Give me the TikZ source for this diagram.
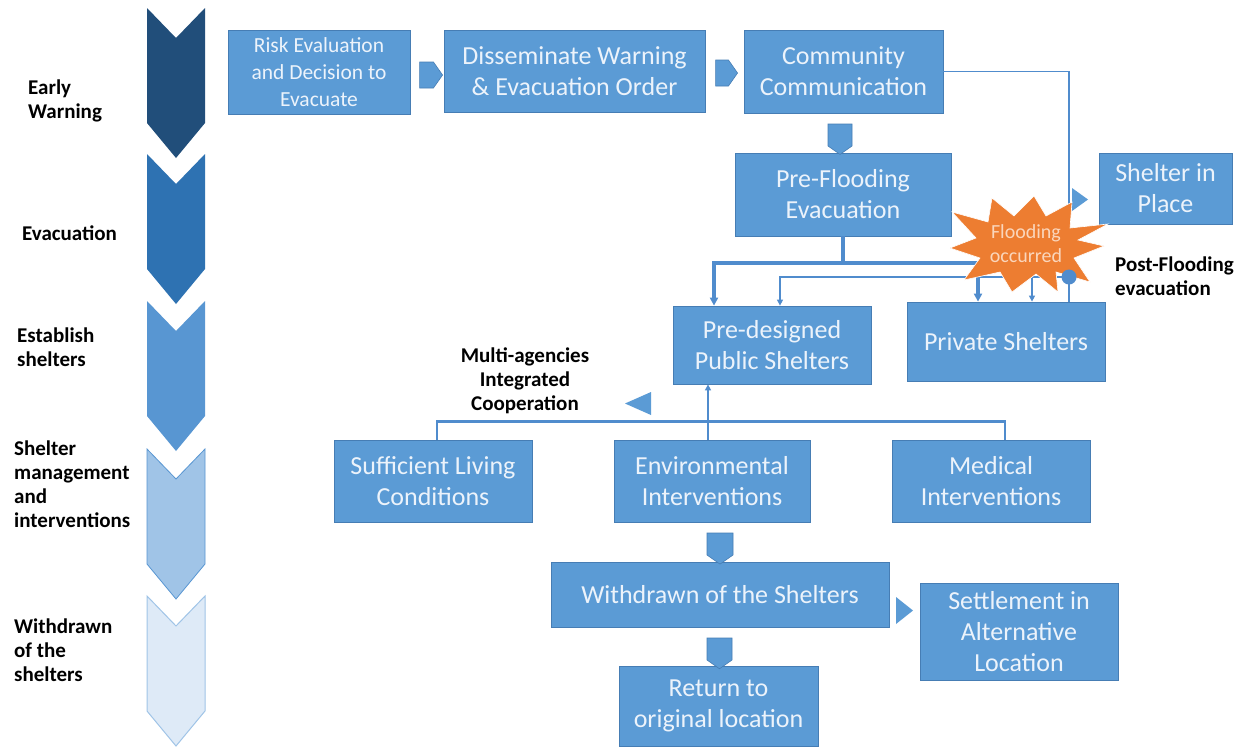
\documentclass[tikz,border=0pt]{standalone}
\usepackage{fontspec}
\setmainfont{Carlito}
\usetikzlibrary{arrows.meta,shapes.symbols,shapes.geometric,calc}
\definecolor{boxfill}{RGB}{91,155,213}
\definecolor{boxline}{RGB}{70,125,180}
\definecolor{boxtext}{RGB}{236,243,251}
\definecolor{linec}{RGB}{80,140,205}
\definecolor{chA}{RGB}{33,78,122}
\definecolor{chB}{RGB}{46,114,178}
\definecolor{chC}{RGB}{88,150,210}
\definecolor{chD}{RGB}{160,196,231}
\definecolor{chE}{RGB}{222,234,247}
\definecolor{burstc}{RGB}{237,125,49}
\definecolor{bursttext}{RGB}{250,214,188}
\tikzset{
  boxs/.style={draw=boxline, line width=0.8pt, fill=boxfill, text=boxtext, align=center,
    inner sep=0pt, font=\fontsize{26}{31}\selectfont},
  lab/.style={anchor=west, align=left, inner sep=0pt, font=\fontsize{21}{24}\selectfont\bfseries},
  thickl/.style={draw=linec, line width=3.2pt},
  medl/.style={draw=linec, line width=2.4pt},
  thinl/.style={draw=linec, line width=1.3pt},
  tip/.style={-{Triangle[length=8pt,width=8pt]}},
  smalltip/.style={-{Triangle[length=6pt,width=6pt]}},
  sigE/.style={signal, signal to=east, fill=boxfill, draw=boxline, line width=0.6pt,
    inner sep=0pt, signal pointer angle=110},
  sigS/.style={signal, signal to=south, fill=boxfill, draw=boxline, line width=0.6pt,
    inner sep=0pt, signal pointer angle=110},
  burstshape/.style={fill=burstc, draw=white, line width=0.6pt, line join=miter},
  bursttxt/.style={text=bursttext, align=center, inner sep=0pt, font=\fontsize{20}{24}\selectfont},
}
\begin{document}
\begin{tikzpicture}[x=1pt,y=-1pt]
\useasboundingbox (0,0) rectangle (1245,748);
\fill[white] (0,0) rectangle (1245,748);

% chevrons
\fill[chA] (147,8) -- (176,38) -- (205,8) -- (205,123) -- (176,158) -- (147,123) -- cycle;
\fill[chB] (147,154) -- (176,184) -- (205,154) -- (205,269) -- (176,304) -- (147,269) -- cycle;
\fill[chC] (147,301) -- (176,331) -- (205,301) -- (205,416) -- (176,451) -- (147,416) -- cycle;
\filldraw[fill=chD, draw=chC, line width=0.8pt] (147,449) -- (176,479) -- (205,449) -- (205,564) -- (176,599) -- (147,564) -- cycle;
\filldraw[fill=chE, draw=chD, line width=1pt] (147,596) -- (176,626) -- (205,596) -- (205,711) -- (176,746) -- (147,711) -- cycle;

% stage labels
\node[lab] (l1) at (28,101) {Early\\Warning};
\node[lab] (l2) at (22,233) {Evacuation};
\node[lab] (l3) at (17,347) {Establish\\shelters};
\node[lab] (l4) at (14,484) {Shelter\\management\\and\\interventions};
\node[lab] (l5) at (14,650) {Withdrawn\\of the\\shelters};

% boxes
\node[boxs, minimum width=182pt, minimum height=84pt, font=\fontsize{21.5}{27}\selectfont] (risk) at (319,72) {Risk Evaluation\\and Decision to\\Evacuate};
\node[boxs, minimum width=261pt, minimum height=82pt] (diss) at (574.5,71) {Disseminate Warning\\\& Evacuation Order};
\node[boxs, minimum width=199pt, minimum height=83pt] (comm) at (843.5,71.5) {Community\\Communication};
\node[boxs, minimum width=216pt, minimum height=83pt] (pre) at (843,194.5) {Pre-Flooding\\Evacuation};
\node[boxs, minimum width=133pt, minimum height=71pt] (sip) at (1165.5,188.5) {Shelter in\\Place};
\node[boxs, minimum width=198pt, minimum height=78pt] (pub) at (772,345) {Pre-designed\\Public Shelters};
\node[boxs, minimum width=198pt, minimum height=79pt] (priv) at (1006,341.5) {Private Shelters};
\node[boxs, minimum width=198pt, minimum height=82pt] (suff) at (433,481) {Sufficient Living\\Conditions};
\node[boxs, minimum width=196pt, minimum height=82pt] (env) at (712,481) {Environmental\\Interventions};
\node[boxs, minimum width=198pt, minimum height=82pt] (med) at (991,481) {Medical\\Interventions};
\node[boxs, minimum width=338pt, minimum height=65pt] (wd) at (720,594.5) {Withdrawn of the Shelters};
\node[boxs, minimum width=198pt, minimum height=97pt] (set) at (1019,631.5) {Settlement in\\Alternative\\Location};
\node[boxs, minimum width=199pt, minimum height=80pt] (ret) at (718.5,706) {Return to\\original location};

% block arrows
\node[sigE, minimum width=23pt, minimum height=26pt] (a1) at (426.5,75) {};
\node[sigE, minimum width=22pt, minimum height=26pt] (a2) at (722,73) {};
\node[sigS, minimum width=24pt, minimum height=22pt] (a3) at (840,135) {};
\node[sigS, minimum width=26pt, minimum height=22pt] (a4) at (720,544) {};
\node[sigS, minimum width=25pt, minimum height=22pt] (a5) at (719.5,649) {};
\fill[boxfill] (896,597) -- (913,610.5) -- (896,624) -- cycle;

% community -> shelter in place
\coordinate (pfc) at (1069,277);
\draw[thinl] (comm.east) -| (pfc);
\fill[boxfill] (1072,188) -- (1088,199.5) -- (1072,211) -- cycle;

% pre-flooding evacuation split
\coordinate (hj) at (pre.south |- 0,263);
\draw[thickl, tip] (pre.south) -- (hj) -| ([xshift=-58pt]pub.north);
\draw[thickl, tip] (hj) -| ([xshift=-28pt]priv.north);

% post-flooding evacuation
\draw[thinl, smalltip] (pfc) -| ([xshift=8pt]pub.north);
\draw[thinl, smalltip] ([xshift=26pt]priv.north |- pfc) -- ([xshift=26pt]priv.north);
\draw[thinl] (pfc) -- (pfc |- priv.north);

% flooding burst
\begin{scope}[shift={(1026,244)}]
\filldraw[burstshape] (78,2) -- (48,14) -- (64,38) -- (30,28) -- (32,48) -- (10,30)
  -- (-14,48) -- (-26,28) -- (-62,36) -- (-46,14) -- (-76,4) -- (-50,-6)
  -- (-74,-32) -- (-38,-22) -- (-34,-46) -- (-12,-28) -- (8,-48) -- (20,-28)
  -- (46,-42) -- (44,-16) -- (82,-20) -- (52,-4) -- cycle;
\end{scope}
\node[bursttxt] (fl) at (1026,244) {Flooding\\occurred};
\node[circle, fill=linec, inner sep=0pt, minimum size=15pt] (pfdot) at (pfc) {};
\node[lab] (pflab) at (1115,276) {Post-Flooding\\evacuation};

% multi-agency cooperation
\draw[medl] ([xshift=4pt]suff.north) -- ++(0,-18) -| ([xshift=14pt]med.north);
\draw[medl, smalltip] ([xshift=-4pt]env.north) -- ([xshift=-4pt]env.north |- pub.south);
\fill[boxfill] (651,392) -- (625,403.5) -- (651,415) -- cycle;
\node[lab, anchor=center, align=center] (mac) at (525,381) {Multi-agencies\\Integrated\\Cooperation};
\end{tikzpicture}
\end{document}
